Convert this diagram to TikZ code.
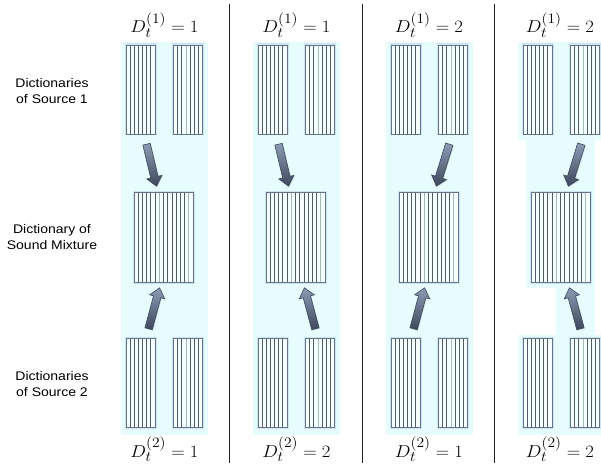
\documentclass[tikz,border=0pt]{standalone}
\usepackage{fontspec}
\newfontfamily\labfont[FakeStretch=1.12]{Liberation Sans}
\usetikzlibrary{calc,shapes.arrows,shadows}
\definecolor{bgc}{RGB}{230,252,253}
\definecolor{edgec}{RGB}{100,115,135}
\definecolor{linec}{RGB}{80,92,98}
\definecolor{lightl}{RGB}{165,190,180}
\definecolor{glowc}{RGB}{195,220,238}
\definecolor{arrD}{RGB}{62,72,92}
\definecolor{arrL}{RGB}{140,155,180}
\definecolor{divc}{RGB}{30,30,30}
\newcommand\fatarrow[3]{%
  \path let \p1=($(#2)-(#1)$), \n1={atan2(\y1,\x1)}, \n2={veclen(\x1,\y1)} in
    node[fatarr, minimum height=\n2, rotate=\n1] (#3) at ($(#1)!0.5!(#2)$) {};}
\newcommand\wide[1]{\scalebox{1.08}[1]{#1}}
\tikzset{
  dictbox/.style={draw=edgec, line width=0.9pt, fill=white!55!bgc, inner sep=0pt,
    preaction={draw=glowc, line width=3pt, opacity=0.7}},
  smalldict/.style={dictbox, minimum width=29pt, minimum height=89pt,
    path picture={\foreach \k in {1,...,6}{%
      \ifnum\k=#1\relax\def\cc{lightl}\else\def\cc{linec}\fi
      \draw[\cc, line width=0.75pt]
        ($(path picture bounding box.south west)!\k/7!(path picture bounding box.south east)$) --
        ($(path picture bounding box.north west)!\k/7!(path picture bounding box.north east)$);}}},
  smalldict/.default=0,
  bigdict/.style={dictbox, minimum width=59pt, minimum height=90pt,
    path picture={\foreach \k in {1,...,13}{%
      \ifnum\k=6\relax\def\cc{lightl}\else\ifnum\k=13\relax\def\cc{lightl}\else\def\cc{linec}\fi\fi
      \draw[\cc, line width=0.75pt]
        ($(path picture bounding box.south west)!\k/14!(path picture bounding box.south east)$) --
        ($(path picture bounding box.north west)!\k/14!(path picture bounding box.north east)$);}}},
  fatarr/.style={single arrow, single arrow head extend=4pt, single arrow tip angle=80,
    inner xsep=0pt, inner ysep=3.5pt, draw=arrD, line width=0.6pt,
    top color=arrL, bottom color=arrD,
    drop shadow={opacity=0.25, shadow xshift=0.8pt, shadow yshift=-0.8pt}},
  sidelab/.style={font=\labfont\fontsize{12.5}{16}\selectfont, align=center, inner sep=0pt},
  mathlab/.style={font=\fontsize{19}{22}\selectfont, anchor=base, inner sep=0pt},
}
\begin{document}
\begin{tikzpicture}[x=1pt,y=-1pt]
\useasboundingbox (0,0) rectangle (601,465);
% backgrounds
\foreach \o in {0,132,265} \fill[bgc] (121+\o,42) rectangle (208+\o,435);
\fill[bgc] (518,42) -- (601,42) -- (601,140) -- (595,140) -- (595,335) -- (601,335)
  -- (601,435) -- (518,435) -- (518,335) -- (556,335) -- (556,288) -- (526,288)
  -- (526,140) -- (518,140) -- cycle;
% dividers
\foreach \xx in {229,362,494} \draw[divc, line width=0.8pt] (\xx,4) -- (\xx,463);
% side labels
\node[sidelab] (lab1) at (52,91) {Dictionaries\\of Source 1};
\node[sidelab] (lab2) at (52,237) {Dictionary of\\Sound Mixture};
\node[sidelab] (lab3) at (52,384) {Dictionaries\\of Source 2};
% panels
\foreach \q/\o/\ta/\tb/\ba/\bb/\mm/\nn/\lx in {1/0/146/156/148/159/1/1/164.5, 2/132/146/156/184/173/1/2/164.5,
    3/265/185/172/148/159/2/1/164, 4/397/185/172/184/173/2/2/163}{
  \begin{scope}[xshift=\o pt]
    \node[smalldict=7] (sa\q) at (140.5,89.5) {};
    \node[smalldict=3] (sb\q) at (188,89.5) {};
    \node[bigdict] (mx\q) at (163.5,237) {};
    \node[smalldict=7] (ta\q) at (140.5,383) {};
    \node[smalldict=3] (tb\q) at (188,383) {};
    \coordinate (tt\q) at (\ta,142);
    \coordinate (th\q) at (\tb,184);
    \coordinate (bt\q) at (\ba,331);
    \coordinate (bh\q) at (\bb,290);
    \node[mathlab] (top\q) at (\lx,33) {\wide{$D_t^{(1)}=\mm$}};
    \node[mathlab] (bot\q) at (\lx,457) {\wide{$D_t^{(2)}=\nn$}};
  \end{scope}
  \fatarrow{tt\q}{th\q}{arT\q}
  \fatarrow{bt\q}{bh\q}{arB\q}
}
\end{tikzpicture}
\end{document}
